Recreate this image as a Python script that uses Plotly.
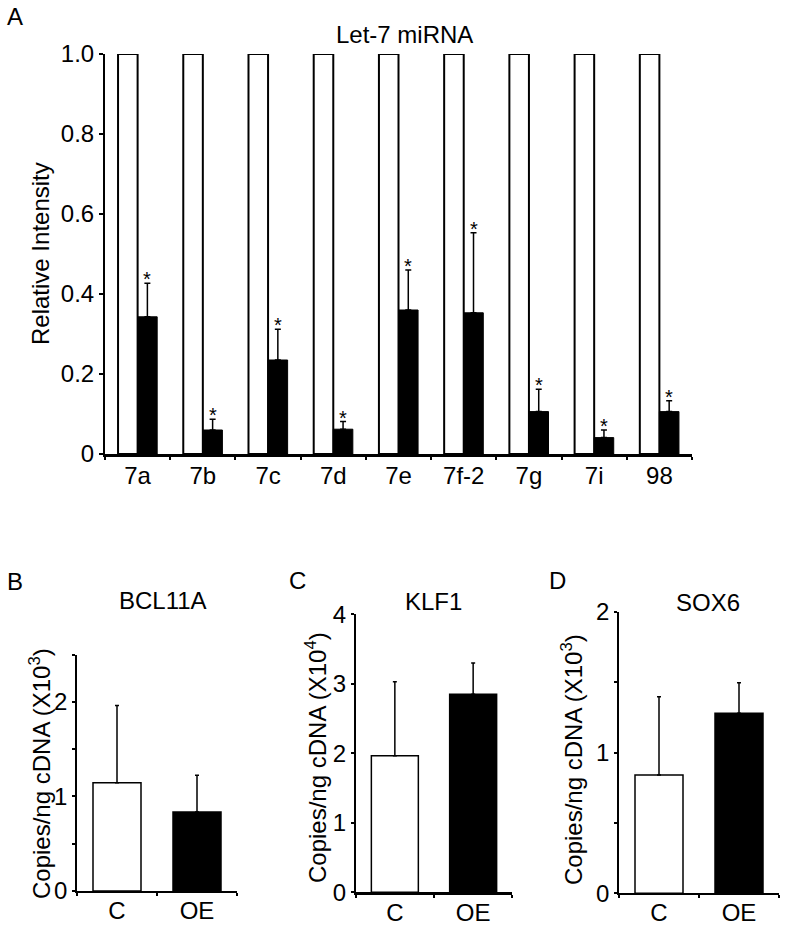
import plotly.graph_objects as go

W, H = 786, 933
FONT = "Liberation Sans, Arial, Helvetica, sans-serif"

# ---------------- data ----------------
let7_categories = ["7a", "7b", "7c", "7d", "7e", "7f-2", "7g", "7i", "98"]
let7_control = [1, 1, 1, 1, 1, 1, 1, 1, 1]
let7_oe = [0.343, 0.060, 0.235, 0.062, 0.360, 0.353, 0.106, 0.041, 0.106]
let7_oe_err = [0.084, 0.027, 0.077, 0.019, 0.100, 0.200, 0.056, 0.019, 0.027]
let7_sig = ["*", "*", "*", "*", "*", "*", "*", "*", "*"]
let7_yticks = [0, 0.2, 0.4, 0.6, 0.8, 1.0]
let7_yticktext = ["0", "0.2", "0.4", "0.6", "0.8", "1.0"]

groups = ["C", "OE"]
bcl11a_values = [1.143, 0.836]
bcl11a_err = [0.817, 0.388]
bcl11a_yticks = [0, 1, 2]
bcl11a_yminor = [0.5, 1.5, 2.5]

klf1_values = [1.965, 2.85]
klf1_err = [1.065, 0.45]
klf1_yticks = [0, 1, 2, 3, 4]
klf1_yminor = []

sox6_values = [0.84, 1.278]
sox6_err = [0.556, 0.218]
sox6_yticks = [0, 1, 2]
sox6_yminor = [0.5, 1.5]

ytitle_a = "Relative Intensity"
ytitle3 = "Copies/ng cDNA (X10<sup>3</sup>)"
ytitle4 = "Copies/ng cDNA (X10<sup>4</sup>)"


def xd(a, b):
    return [a / W, b / W]


def yd(bottom, top):
    return [1 - bottom / H, 1 - top / H]


fig = go.Figure()

# ---------------- panel A ----------------
fig.add_trace(go.Bar(
    x=let7_categories, y=let7_control, xaxis="x", yaxis="y",
    marker=dict(color="white", line=dict(color="black", width=2)),
    showlegend=False,
))
fig.add_trace(go.Bar(
    x=let7_categories, y=let7_oe, xaxis="x", yaxis="y",
    marker=dict(color="black", line=dict(color="black", width=1)),
    error_y=dict(type="data", array=let7_oe_err, arrayminus=[0] * len(let7_oe),
                 symmetric=False, color="black", thickness=1.5, width=3),
    showlegend=False,
))

annotations = []
for i, (v, e, s) in enumerate(zip(let7_oe, let7_oe_err, let7_sig)):
    annotations.append(dict(
        x=i, y=v + e, xref="x", yref="y", text=s, showarrow=False,
        xshift=9.8, yanchor="bottom", yshift=-9,
        font=dict(family=FONT, size=20, color="black"),
    ))


# ---------------- bottom panels ----------------
def add_small(vals, errs, xa, ya):
    fig.add_trace(go.Bar(
        x=groups, y=vals, xaxis=xa, yaxis=ya,
        marker=dict(color=["white", "black"], line=dict(color="black", width=1.5)),
        error_y=dict(type="data", array=errs, arrayminus=[0] * len(vals),
                     symmetric=False, color="black", thickness=1.5, width=2),
        showlegend=False,
    ))


add_small(bcl11a_values, bcl11a_err, "x2", "y2")
add_small(klf1_values, klf1_err, "x3", "y3")
add_small(sox6_values, sox6_err, "x4", "y4")

tickfont = dict(family=FONT, size=24, color="black")

common_x = dict(type="category", showline=True, linecolor="black", ticks="outside",
                tickson="boundaries", ticklen=3, tickcolor="black", tickfont=tickfont,
                tickangle=0, showgrid=False, zeroline=False, fixedrange=True,
                automargin=False, ticklabelstandoff=-3)
common_y = dict(type="linear", showline=True, linecolor="black", ticks="outside", ticklen=4,
                tickcolor="black", tickfont=tickfont, showgrid=False, zeroline=False,
                fixedrange=True, automargin=False)


def minor(vals):
    return dict(tickvals=vals, ticks="outside", ticklen=3, tickcolor="black", tickwidth=1.5,
                showgrid=False)


layout = dict(
    width=W, height=H, margin=dict(l=0, r=0, t=0, b=0, autoexpand=False),
    paper_bgcolor="white", plot_bgcolor="white",
    barmode="group", bargap=0.4, bargroupgap=0,
    font=dict(family=FONT, size=24, color="black"),
    showlegend=False,
)

layout["xaxis"] = dict(common_x, domain=xd(105, 692), anchor="y", linewidth=2.5, tickwidth=2,
                       range=[-0.5, len(let7_categories) - 0.5], ticklabelstandoff=-2)
layout["yaxis"] = dict(common_y, domain=yd(454, 54), anchor="x", range=[0, 1.0],
                       tickvals=let7_yticks, ticktext=let7_yticktext, linewidth=2, tickwidth=2)

layout["xaxis2"] = dict(common_x, domain=xd(77, 237), anchor="y2", linewidth=2, tickwidth=1.5,
                        range=[-0.5, 1.5])
layout["yaxis2"] = dict(common_y, domain=yd(891, 654.5), anchor="x2", range=[0, 2.5],
                        tickvals=bcl11a_yticks, linewidth=1.5, tickwidth=1.5, ticklen=3,
                        minor=minor(bcl11a_yminor))

layout["xaxis3"] = dict(common_x, domain=xd(355.7, 512.3), anchor="y3", linewidth=3,
                        tickwidth=1.5, range=[-0.5, 1.5])
layout["yaxis3"] = dict(common_y, domain=yd(892.3, 614.3), anchor="x3", range=[0, 4],
                        tickvals=klf1_yticks, linewidth=1.5, tickwidth=1.5, ticklen=3)

layout["xaxis4"] = dict(common_x, domain=xd(619, 779), anchor="y4", linewidth=2, tickwidth=1.5,
                        range=[-0.5, 1.5])
layout["yaxis4"] = dict(common_y, domain=yd(893.3, 611.7), anchor="x4", range=[0, 2],
                        tickvals=sox6_yticks, linewidth=1.5, tickwidth=1.5, ticklen=3,
                        minor=minor(sox6_yminor))


def paper_text(text, x, y, size=24, angle=0):
    return dict(text=text, x=x / W, y=1 - y / H, xref="paper", yref="paper",
                showarrow=False, xanchor="center", yanchor="middle", textangle=angle,
                font=dict(family=FONT, size=size, color="black"))


annotations += [
    paper_text("A", 15, 17),
    paper_text("Let-7 miRNA", 404, 34, 24),
    paper_text(ytitle_a, 41, 254, 24, -90),
    paper_text("B", 15, 581),
    paper_text("BCL11A", 163, 600, 24),
    paper_text(ytitle3, 40, 774, 24, -90),
    paper_text("C", 297, 580),
    paper_text("KLF1", 433, 601, 24),
    paper_text(ytitle4, 316, 758, 24, -90),
    paper_text("D", 557, 580),
    paper_text("SOX6", 708, 602, 24),
    paper_text(ytitle3, 572, 760, 24, -90),
]
layout["annotations"] = annotations

fig.update_layout(**layout)
fig.write_html("out.html", config={"displayModeBar": False},
               post_script="document.body.style.margin='0px';document.body.style.padding='0px';")
